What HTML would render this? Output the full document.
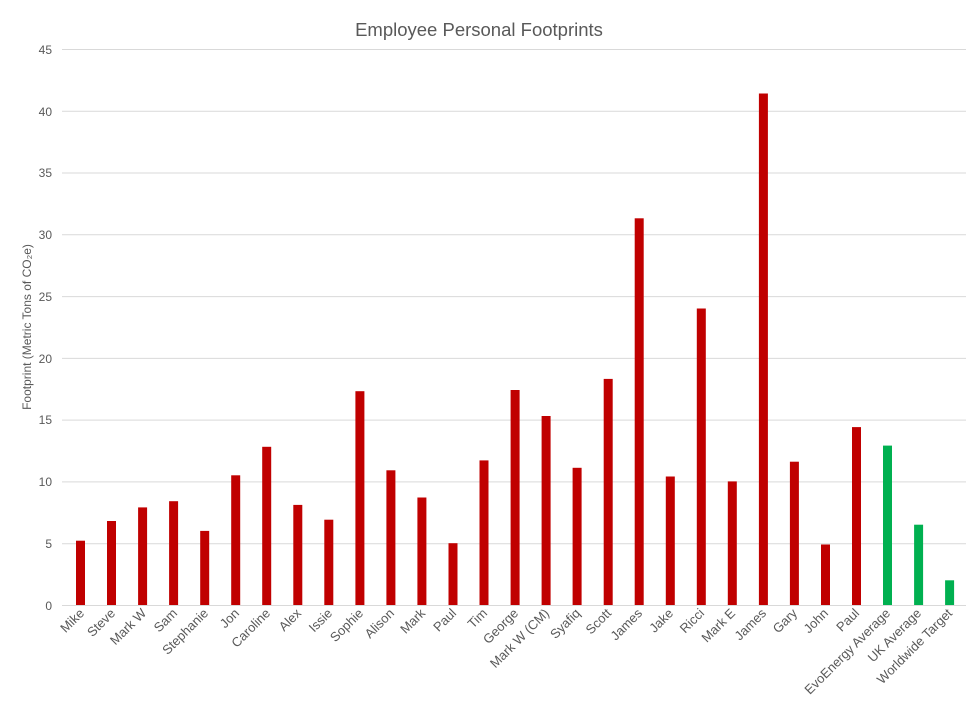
<!DOCTYPE html>
<html><head><meta charset="utf-8"><style>
body{margin:0;background:#fff}
svg{display:block;font-family:"Liberation Sans",sans-serif}
.t{font-size:12px;fill:#595959}
.c{font-size:13px;fill:#595959}
.g{stroke:#d9d9d9;stroke-width:1}
</style></head><body>
<svg width="976" height="711" viewBox="0 0 976 711">
<text x="479" y="36" text-anchor="middle" font-size="18.5" fill="#595959">Employee Personal Footprints</text>
<g class="g">
<line x1="62" x2="966" y1="49.5" y2="49.5"/><line x1="62" x2="966" y1="111.3" y2="111.3"/><line x1="62" x2="966" y1="173" y2="173"/><line x1="62" x2="966" y1="234.8" y2="234.8"/><line x1="62" x2="966" y1="296.6" y2="296.6"/><line x1="62" x2="966" y1="358.4" y2="358.4"/><line x1="62" x2="966" y1="420.1" y2="420.1"/><line x1="62" x2="966" y1="481.9" y2="481.9"/><line x1="62" x2="966" y1="543.7" y2="543.7"/><line x1="62" x2="966" y1="605.5" y2="605.5"/>
</g>
<g class="t" text-anchor="end">
<text x="52" y="54">45</text><text x="52" y="116">40</text><text x="52" y="177">35</text><text x="52" y="239">30</text><text x="52" y="301">25</text><text x="52" y="363">20</text><text x="52" y="424">15</text><text x="52" y="486">10</text><text x="52" y="548">5</text><text x="52" y="610">0</text>
</g>
<text class="t" transform="translate(31,327) rotate(-90)" text-anchor="middle">Footprint (Metric Tons of CO₂e)</text>
<g fill="#c00000">
<rect x="76" y="540.7" width="9" height="64.3"/>
<rect x="107" y="521" width="9" height="84"/>
<rect x="138.1" y="507.4" width="9" height="97.6"/>
<rect x="169.1" y="501.2" width="9" height="103.8"/>
<rect x="200.2" y="530.9" width="9" height="74.1"/>
<rect x="231.2" y="475.3" width="9" height="129.7"/>
<rect x="262.2" y="446.8" width="9" height="158.2"/>
<rect x="293.3" y="504.9" width="9" height="100.1"/>
<rect x="324.3" y="519.7" width="9" height="85.3"/>
<rect x="355.4" y="391.2" width="9" height="213.8"/>
<rect x="386.4" y="470.3" width="9" height="134.7"/>
<rect x="417.4" y="497.5" width="9" height="107.5"/>
<rect x="448.5" y="543.2" width="9" height="61.8"/>
<rect x="479.5" y="460.4" width="9" height="144.6"/>
<rect x="510.6" y="390" width="9" height="215"/>
<rect x="541.6" y="416" width="9" height="189"/>
<rect x="572.6" y="467.8" width="9" height="137.2"/>
<rect x="603.7" y="378.9" width="9" height="226.1"/>
<rect x="634.7" y="218.3" width="9" height="386.7"/>
<rect x="665.8" y="476.5" width="9" height="128.5"/>
<rect x="696.8" y="308.5" width="9" height="296.5"/>
<rect x="727.8" y="481.4" width="9" height="123.6"/>
<rect x="758.9" y="93.5" width="9" height="511.5"/>
<rect x="789.9" y="461.7" width="9" height="143.3"/>
<rect x="821" y="544.5" width="9" height="60.5"/>
<rect x="852" y="427.1" width="9" height="177.9"/>
</g>
<g fill="#00b050">
<rect x="883" y="445.6" width="9" height="159.4"/>
<rect x="914.1" y="524.7" width="9" height="80.3"/>
<rect x="945.1" y="580.3" width="9" height="24.7"/>
</g>
<g class="c" text-anchor="end">
<text transform="translate(85,614) rotate(-45)">Mike</text>
<text transform="translate(116,614) rotate(-45)">Steve</text>
<text transform="translate(147,614) rotate(-45)">Mark W</text>
<text transform="translate(178,614) rotate(-45)">Sam</text>
<text transform="translate(209,614) rotate(-45)">Stephanie</text>
<text transform="translate(240,614) rotate(-45)">Jon</text>
<text transform="translate(271,614) rotate(-45)">Caroline</text>
<text transform="translate(302,614) rotate(-45)">Alex</text>
<text transform="translate(333,614) rotate(-45)">Issie</text>
<text transform="translate(364,614) rotate(-45)">Sophie</text>
<text transform="translate(395,614) rotate(-45)">Alison</text>
<text transform="translate(426,614) rotate(-45)">Mark</text>
<text transform="translate(457,614) rotate(-45)">Paul</text>
<text transform="translate(488,614) rotate(-45)">Tim</text>
<text transform="translate(519,614) rotate(-45)">George</text>
<text transform="translate(550,614) rotate(-45)">Mark W (CM)</text>
<text transform="translate(581,614) rotate(-45)">Syafiq</text>
<text transform="translate(612,614) rotate(-45)">Scott</text>
<text transform="translate(643,614) rotate(-45)">James</text>
<text transform="translate(674,614) rotate(-45)">Jake</text>
<text transform="translate(705,614) rotate(-45)">Ricci</text>
<text transform="translate(736,614) rotate(-45)">Mark E</text>
<text transform="translate(767,614) rotate(-45)">James</text>
<text transform="translate(798,614) rotate(-45)">Gary</text>
<text transform="translate(829,614) rotate(-45)">John</text>
<text transform="translate(860,614) rotate(-45)">Paul</text>
<text transform="translate(891,614) rotate(-45)">EvoEnergy Average</text>
<text transform="translate(922,614) rotate(-45)">UK Average</text>
<text transform="translate(953,614) rotate(-45)">Worldwide Target</text>
</g>
</svg>
</body></html>
